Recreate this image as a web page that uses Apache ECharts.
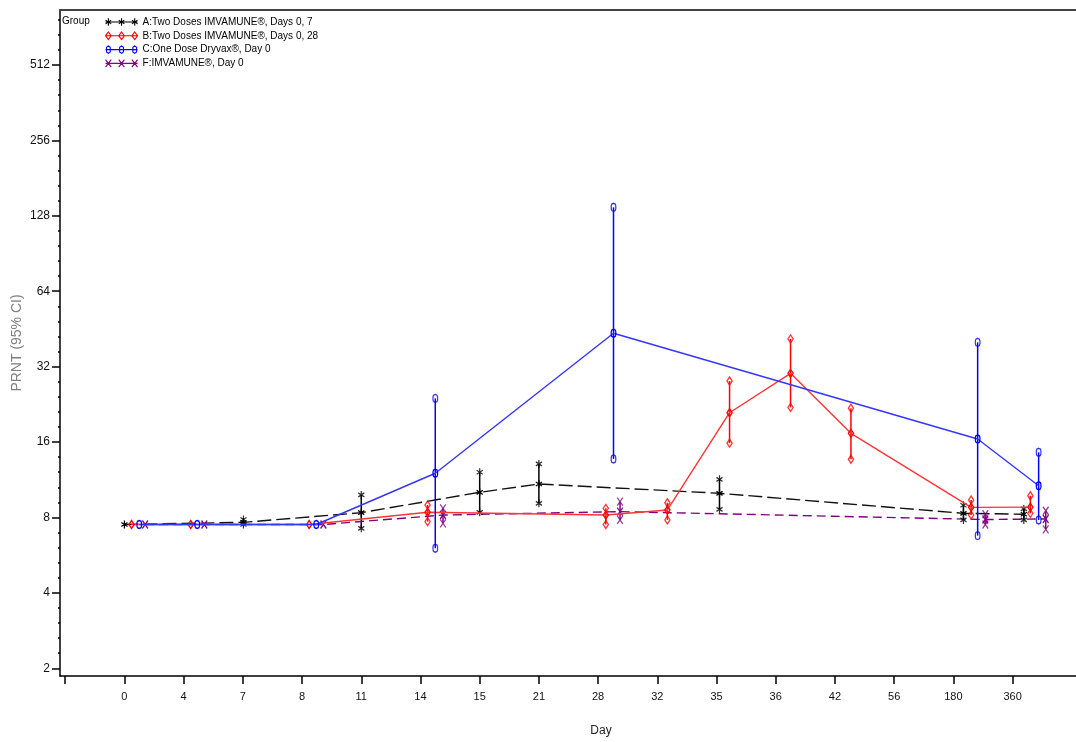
<!DOCTYPE html>
<html><head><meta charset="utf-8">
<script src="https://cdn.jsdelivr.net/npm/echarts@6/dist/echarts.min.js"></script>
<style>html,body{margin:0;padding:0;background:#fff}#c{width:1076px;height:742px}</style>
</head><body><div id="c"></div>
<script>
// ---- data ----
const dayLabels = ['0','4','7','8','11','14','15','21','28','32','35','36','42','56','180','360'];
const yTickValues = [2,4,8,16,32,64,128,256,512];
const groupNames = [
  'A:Two Doses IMVAMUNE®, Days 0, 7',
  'B:Two Doses IMVAMUNE®, Days 0, 28',
  'C:One Dose Dryvax®, Day 0',
  'F:IMVAMUNE®, Day 0'
];
// x = visit slot (index into dayLabels) plus the group's small side-by-side shift
const xA    = [0.00, 2.01, 4.00, 6.00, 7.00, 10.05, 14.17, 15.19];
const meanA = [7.5, 7.65, 8.36, 10.08, 10.88, 9.99, 8.31, 8.24];
const lowA  = [7.5, 7.5, 7.24, 8.39, 9.11, 8.62, 7.82, 7.82];
const upA   = [7.5, 7.85, 9.84, 12.12, 13.08, 11.36, 8.95, 8.65];

const xB    = [0.12, 1.12, 3.12, 5.12, 8.13, 9.17, 10.22, 11.25, 12.27, 14.30, 15.30];
const meanB = [7.5, 7.5, 7.5, 8.39, 8.18, 8.57, 20.95, 30.1, 17.34, 8.78, 8.8];
const lowB  = [7.5, 7.5, 7.5, 7.70, 7.5, 7.82, 15.83, 22.0, 13.66, 8.18, 8.31];
const upB   = [7.5, 7.5, 7.5, 8.97, 8.70, 9.16, 28.05, 41.3, 21.83, 9.39, 9.77];

const xC    = [0.25, 1.23, 3.24, 5.25, 8.26, 14.41, 15.44];
const meanC = [7.5, 7.5, 7.5, 12.01, 43.5, 16.46, 10.71];
const lowC  = [7.5, 7.5, 7.5, 6.03, 13.7, 6.77, 7.82];
const upC   = [7.5, 7.5, 7.5, 23.9, 138.4, 40.0, 14.56];

const xF    = [0.35, 1.35, 3.36, 5.38, 8.37, 14.54, 15.56];
const meanF = [7.5, 7.5, 7.5, 8.18, 8.44, 7.85, 7.89];
const lowF  = [7.5, 7.5, 7.5, 7.58, 7.82, 7.5, 7.17];
const upF   = [7.5, 7.5, 7.5, 8.70, 9.25, 8.24, 8.51];

// ---- styling ----
const FONT = 'Liberation Sans, Arial, sans-serif';
const SYM = {
  star: 'path://M0,-4L0,4M-3.5,-2L3.5,2M-3.5,2L3.5,-2',
  diamond: 'path://M0,-4L3,0L0,4L-3,0Z',
  ring: 'path://M0,-4L2,-3.2L2.6,-1.5L2.6,1.5L2,3.2L0,4L-2,3.2L-2.6,1.5L-2.6,-1.5L-2,-3.2Z',
  cross: 'path://M-3.2,-4L3.2,4M-3.2,4L3.2,-4'
};
const LEG = {
  star: 'path://M0,5L34,5M3,1L3,9M0,3L6,7M0,7L6,3M17,1L17,9M14,3L20,7M14,7L20,3M31,1L31,9M28,3L34,7M28,7L34,3',
  diamond: 'path://M0,5L34,5M3,1L6,5L3,9L0,5ZM17,1L20,5L17,9L14,5ZM31,1L34,5L31,9L28,5Z',
  ring: 'path://M0,5L34,5M3,1L5,2.5L5,7.5L3,9L1,7.5L1,2.5ZM17,1L19,2.5L19,7.5L17,9L15,7.5L15,2.5ZM31,1L33,2.5L33,7.5L31,9L29,7.5L29,2.5Z',
  cross: 'path://M0,5L34,5M0,1L6,9M0,9L6,1M14,1L20,9M14,9L20,1M28,1L34,9M28,9L34,1'
};
const groups = [
  {name: groupNames[0], x: xA, m: meanA, lo: lowA, hi: upA, color: '#000000', lineColor: '#111111', dash: [14, 5], sym: 'star', z: 3},
  {name: groupNames[1], x: xB, m: meanB, lo: lowB, hi: upB, color: '#ff0000', lineColor: '#ff3535', dash: 'solid', sym: 'diamond', z: 4},
  {name: groupNames[2], x: xC, m: meanC, lo: lowC, hi: upC, color: '#0000ff', lineColor: '#3535ff', dash: 'solid', sym: 'ring', z: 5},
  {name: groupNames[3], x: xF, m: meanF, lo: lowF, hi: upF, color: '#800080', lineColor: '#800080', dash: [9, 5], sym: 'cross', z: 3}
];

const series = [];
groups.forEach(g => {
  series.push({
    type: 'line', name: g.name, z: g.z,
    data: g.x.map((x, i) => [x, g.m[i]]),
    symbol: SYM[g.sym], symbolSize: [7, 8], symbolKeepAspect: true, showSymbol: true,
    itemStyle: {color: 'rgba(0,0,0,0)', borderColor: g.color, borderWidth: 1.3},
    lineStyle: {color: g.lineColor, width: 1.4, type: g.dash},
    emphasis: {disabled: true}, animation: false
  });
  series.push({
    type: 'custom', name: g.name + ' CI', z: g.z,
    data: g.x.map((x, i) => [x, g.lo[i], g.hi[i]]),
    encode: {x: 0, y: [1, 2]},
    renderItem: (params, api) => {
      const p1 = api.coord([api.value(0), api.value(1)]);
      const p2 = api.coord([api.value(0), api.value(2)]);
      return {type: 'line', shape: {x1: p1[0], y1: p1[1], x2: p2[0], y2: p2[1]},
        style: {stroke: g.color, lineWidth: 1.5}};
    },
    silent: true, animation: false
  });
  const ends = [];
  g.x.forEach((x, i) => {
    if (g.hi[i] !== g.m[i]) ends.push([x, g.hi[i]]);
    if (g.lo[i] !== g.m[i]) ends.push([x, g.lo[i]]);
  });
  series.push({
    type: 'scatter', name: g.name + ' ends', z: g.z,
    data: ends, symbol: SYM[g.sym], symbolSize: [7, 8], symbolKeepAspect: true,
    itemStyle: {color: 'rgba(0,0,0,0)', borderColor: g.color, borderWidth: 1.3},
    silent: true, animation: false
  });
});

const yMin = 1.863, yMax = 848.9;
const minorY = [];
for (let k = 0; k <= 10; k++) for (let j = 1; j < 5; j++) {
  const v = Math.pow(2, k + j / 5);
  if (v > yMin && v < yMax) minorY.push(v);
}
const xTicks = [-1].concat(dayLabels.map((_, i) => i));
const xLabelVals = dayLabels.map((_, i) => i);

const chart = echarts.init(document.getElementById('c'), null, {renderer: 'canvas'});
chart.setOption({
  animation: false,
  backgroundColor: '#ffffff',
  textStyle: {fontFamily: FONT},
  grid: {left: 60, top: 10, right: 0, bottom: 66, show: false, containLabel: false, outerBoundsMode: 'none'},
  graphic: [{type: 'text', left: 62, top: 16, style: {text: 'Group', font: '10px ' + FONT, fill: '#000'}}],
  legend: {
    orient: 'vertical', left: 105, top: 16, padding: 0, itemWidth: 32, itemHeight: 8, itemGap: 1.8,
    selectedMode: false,
    textStyle: {fontSize: 10, lineHeight: 12, color: '#000', fontFamily: FONT},
    data: groups.map(g => ({name: g.name, icon: LEG[g.sym],
      itemStyle: {color: 'rgba(0,0,0,0)', borderColor: g.color, borderWidth: 1.1}}))
  },
  xAxis: [{
    type: 'value', min: -1.088, max: 16.071, position: 'bottom',
    name: 'Day', nameLocation: 'middle', nameGap: 49, nameMoveOverlap: false,
    nameTextStyle: {fontSize: 12, color: '#222', fontFamily: FONT, padding: [0, 0, 0, 66]},
    axisLine: {onZero: false, lineStyle: {color: '#000', width: 1.5}},
    axisTick: {customValues: xTicks, length: 8, lineStyle: {color: '#000', width: 1.5}},
    axisLabel: {customValues: xLabelVals, formatter: v => dayLabels[Math.round(v)], margin: 15, fontSize: 11, color: '#111', fontFamily: FONT},
    splitLine: {show: false}
  }, {
    type: 'value', min: -1.088, max: 16.071, position: 'top',
    axisLine: {onZero: false, lineStyle: {color: '#444', width: 2}},
    axisTick: {show: false}, axisLabel: {show: false}, splitLine: {show: false}
  }],
  yAxis: [{
    type: 'log', logBase: 2, min: yMin, max: yMax, position: 'left',
    name: 'PRNT (95% CI)', nameLocation: 'middle', nameGap: 36, nameMoveOverlap: false,
    nameTextStyle: {fontSize: 14, color: '#808080', fontFamily: FONT},
    axisLine: {show: true, onZero: false, lineStyle: {color: '#000', width: 1.5}},
    axisTick: {customValues: yTickValues, length: 8, lineStyle: {color: '#000', width: 1.5}},
    axisLabel: {customValues: yTickValues, margin: 10, fontSize: 12, color: '#111', fontFamily: FONT},
    splitLine: {show: false}
  }, {
    type: 'log', logBase: 2, min: yMin, max: yMax, position: 'left',
    axisLine: {show: false, onZero: false},
    axisTick: {customValues: minorY, length: 2, lineStyle: {color: '#000', width: 1.5}},
    axisLabel: {show: false}, splitLine: {show: false}
  }],
  series: series
});
</script></body></html>
